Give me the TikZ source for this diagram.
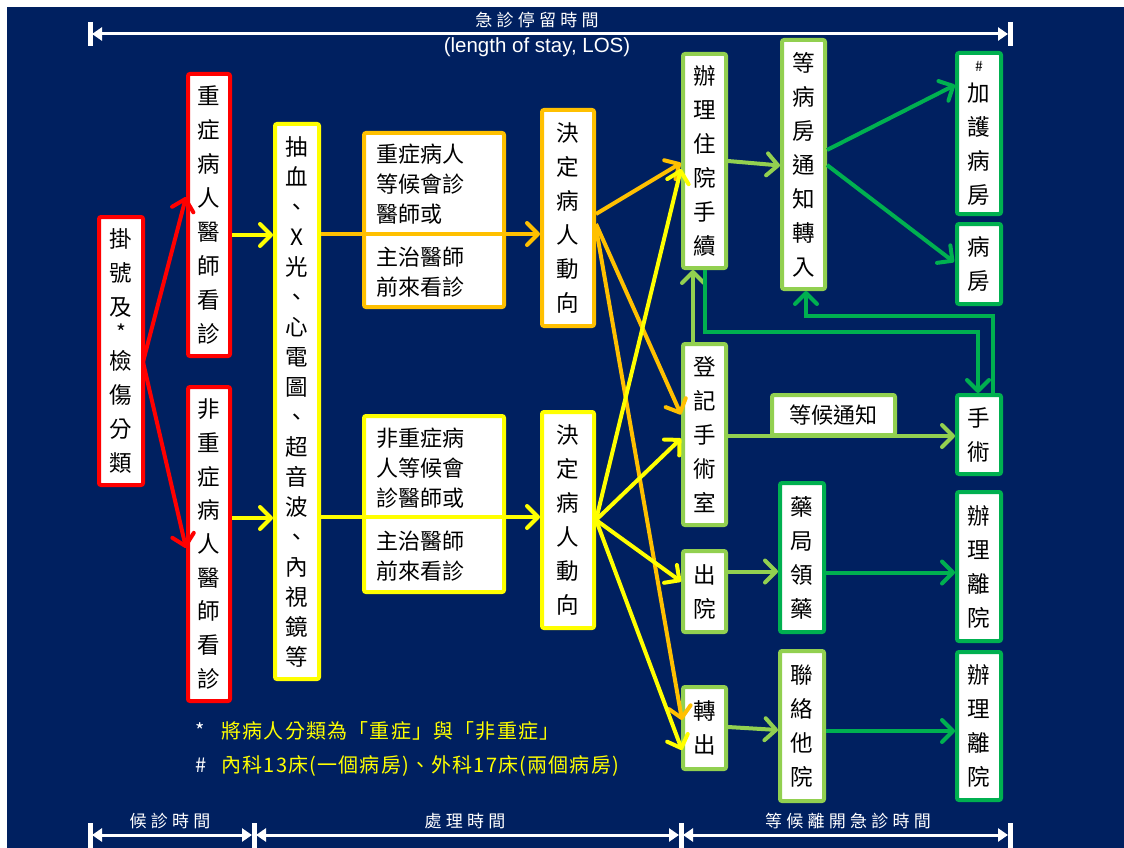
\documentclass[tikz,border=0pt]{standalone}
\usepackage{fontspec}
\usetikzlibrary{arrows.meta,calc}
\setmainfont{Liberation Sans}
\newfontfamily\cjk{Noto Sans CJK TC}
\newfontfamily\cjkls{Noto Sans CJK TC}[LetterSpace=25]
\newfontfamily\cjkfn{Noto Sans CJK TC}[LetterSpace=6]
\definecolor{navy}{RGB}{0,32,96}
\definecolor{cred}{RGB}{255,0,0}
\definecolor{cyel}{RGB}{255,255,0}
\definecolor{corg}{RGB}{255,192,0}
\definecolor{clg}{RGB}{146,208,80}
\definecolor{cdg}{RGB}{0,176,80}
\tikzset{
  box/.style={draw=#1, fill=white, line width=4pt, rounded corners=2pt, inner sep=0pt,
    align=center, text=black, font=\cjk\fontsize{22.5}{34}\selectfont},
  arr/.style={draw=#1, line width=4pt, -{Straight Barb[length=11pt,width=22pt,line width=4pt,round]}},
  dimline/.style={draw=white, line width=3pt, {Triangle[length=10pt,width=13pt]}-{Triangle[length=10pt,width=13pt]}},
  dimbar/.style={draw=white, line width=5pt},
  wlabel/.style={text=white, font=\cjkls\fontsize{17}{17}\selectfont, inner sep=0pt},
  wide/.style={text=black, font=\cjk\fontsize{22}{30}\selectfont, align=left, inner sep=0pt, anchor=west},
}
\begin{document}
\begin{tikzpicture}[x=1pt,y=-1pt]
\useasboundingbox (0,0) rectangle (1124,848);
\fill[white] (0,0) rectangle (1124,848);
\fill[navy] (7,7) rectangle (1124,848);

% ---- boxes ----
\node[box=cred, minimum width=44, minimum height=268] (reg) at (121,351)
  {掛\\號\\及\\[-9pt]{\fontsize{21}{21}\selectfont *}\\[-5pt]檢\\傷\\分\\類};
\node[box=cred, minimum width=42, minimum height=282] (sev) at (209,215)
  {重\\症\\病\\人\\醫\\師\\看\\診};
\node[box=cred, minimum width=42, minimum height=314, font=\cjk\fontsize{22.5}{33.7}\selectfont] (nonsev) at (209,544)
  {非\\重\\症\\病\\人\\醫\\師\\看\\診};
\node[box=cyel, minimum width=44, minimum height=555, font=\cjk\fontsize{22.5}{30}\selectfont] (tests) at (297,401.5)
  {抽\\血\\、\\X\\光\\、\\心\\電\\圖\\、\\超\\音\\波\\、\\內\\視\\鏡\\等};
\node[box=corg, minimum width=140, minimum height=174] (obox) at (434,220) {};
\node[wide] (otext) at (376,221) {重症病人\\等候會診\\醫師或\\[13pt]主治醫師\\前來看診};
\node[box=corg, minimum width=52, minimum height=216] (dec1) at (568,218)
  {決\\定\\病\\人\\動\\向};
\node[box=cyel, minimum width=140, minimum height=176] (ybox) at (434,504) {};
\node[wide] (ytext) at (376,505) {非重症病\\人等候會\\診醫師或\\[13pt]主治醫師\\前來看診};
\node[box=cyel, minimum width=52, minimum height=216] (dec2) at (568,520)
  {決\\定\\病\\人\\動\\向};

\node[box=clg, minimum width=43, minimum height=214] (admit) at (704.5,161)
  {辦\\理\\住\\院\\手\\續};
\node[box=clg, minimum width=43, minimum height=249] (waitward) at (803.5,164.5)
  {等\\病\\房\\通\\知\\轉\\入};
\node[box=cdg, minimum width=44, minimum height=161] (icu) at (979,133.5)
  {{\fontsize{14}{14}\selectfont\#}\\[-4pt]加\\護\\病\\房};
\node[box=cdg, minimum width=44, minimum height=80] (ward) at (979,264)
  {病\\房};
\node[box=clg, minimum width=43, minimum height=181] (regor) at (704.5,434.5)
  {登\\記\\手\\術\\室};
\node[box=cdg, minimum width=44, minimum height=79] (surg) at (979,434.5)
  {手\\術};
\node[box=clg, minimum width=43, minimum height=81] (disch) at (704.5,591.5)
  {出\\院};
\node[box=cdg, minimum width=44, minimum height=149] (pharm) at (802,557.5)
  {藥\\局\\領\\藥};
\node[box=cdg, minimum width=44, minimum height=149] (leave1) at (979,566.5)
  {辦\\理\\離\\院};
\node[box=clg, minimum width=43, minimum height=82] (transf) at (704.5,728)
  {轉\\出};
\node[box=clg, minimum width=44, minimum height=150] (contact) at (802,726)
  {聯\\絡\\他\\院};
\node[box=cdg, minimum width=44, minimum height=148] (leave2) at (979,726)
  {辦\\理\\離\\院};

% ---- connectors, left part ----
\draw[arr=cred] ($(reg.east)+(-2,11)$) -- ($(sev.west)+(0,-18)$);
\draw[arr=cred] ($(reg.east)+(-2,11)$) -- ($(nonsev.west)+(0,4)$);
\draw[arr=cyel] ($(sev.east)+(0,20)$) coordinate (y1) -- (y1 -| tests.west);
\draw[arr=cyel] ($(nonsev.east)+(0,-26)$) coordinate (y2) -- (y2 -| tests.west);
\draw[arr=corg] ($(tests.east)+(0,-167.5)$) coordinate (o1) -- (o1 -| dec1.west);
\draw[arr=cyel] ($(tests.east)+(0,115.5)$) coordinate (y3) -- (y3 -| dec2.west);

% ---- from decision boxes ----
\draw[arr=corg] ($(dec1.east)+(0,-4)$) -- ($(admit.west)+(0,2)$);
\draw[arr=corg] ($(dec1.east)+(0,6)$) -- ($(regor.west)+(0,-20)$);
\draw[arr=corg] ($(dec1.east)+(0,10)$) -- ($(transf.west)+(1,-8)$);
\draw[arr=cyel] (dec2.east) -- ($(admit.west)+(0,8)$);
\draw[arr=cyel] (dec2.east) -- ($(regor.west)+(0,4)$);
\draw[arr=cyel] (dec2.east) -- ($(disch.west)+(0,-10)$);
\draw[arr=cyel] (dec2.east) -- ($(transf.west)+(1,22)$);

% ---- right part ----
\draw[arr=clg] (admit.east) -- ($(waitward.west)+(0,1)$);
\draw[arr=clg] ($(regor.north)+(-11.5,0)$) coordinate (g1) -- (g1 |- admit.south);
\draw[arr=cdg] (admit.south) -- ++(0,62) -| ($(surg.north)+(-1,0)$);
\draw[arr=cdg] ($(surg.north)+(14,0)$) -- ++(0,-77) -| ($(waitward.south)+(2.5,0)$);
\draw[arr=cdg] ($(waitward.east)+(0,-14.5)$) -- ($(icu.west)+(0,-48.5)$);
\draw[arr=cdg] ($(waitward.east)+(0,0.5)$) -- ($(ward.west)+(-1,-2)$);
\draw[arr=clg] ($(regor.east)+(0,1.5)$) coordinate (g2) -- (g2 -| surg.west);
\node[box=clg, minimum width=123, minimum height=40, font=\cjk\fontsize{22}{22}\selectfont] (waitnote) at (833.5,415) {等候通知};
\draw[arr=clg] ($(disch.east)+(0,-20)$) coordinate (g3) -- (g3 -| pharm.west);
\draw[arr=cdg] ($(pharm.east)+(0,15)$) coordinate (g4) -- (g4 -| leave1.west);
\draw[arr=clg] ($(transf.east)+(0,-1)$) -- ($(contact.west)+(0,4)$);
\draw[arr=cdg] ($(contact.east)+(0,5)$) coordinate (g5) -- (g5 -| leave2.west);

% ---- dimension lines ----
\coordinate (t1) at (90,34); \coordinate (t2) at (1010,34);
\draw[dimbar] (90,22) -- (90,46);
\draw[dimbar] (1010,22) -- (1010,46);
\draw[dimline] ($(t1)+(2,0)$) -- ($(t2)+(-2,0)$);
\node[wlabel] (toplab) at (537,20) {急診停留時間};
\node[text=white, font=\fontsize{20.5}{20.5}\selectfont, inner sep=0pt] (los) at (537,47) {(length of stay, LOS)};

\coordinate (b1) at (90,835); \coordinate (b2) at (254,835);
\coordinate (b3) at (681,835); \coordinate (b4) at (1010,835);
\foreach \xx in {90,254,681,1010} \draw[dimbar] (\xx,823) -- (\xx,848);
\draw[dimline] ($(b1)+(2,0)$) -- ($(b2)+(-2,0)$);
\draw[dimline] ($(b2)+(2,0)$) -- ($(b3)+(-2,0)$);
\draw[dimline] ($(b3)+(2,0)$) -- ($(b4)+(-2,0)$);
\node[wlabel] (lab1) at (170,821) {候診時間};
\node[wlabel] (lab2) at (465,821) {處理時間};
\node[wlabel] (lab3) at (848,821) {等候離開急診時間};

% ---- footnotes ----
\node[anchor=west, inner sep=0pt, font=\cjk\fontsize{20}{20}\selectfont] (fn1) at (195,731)
  {\textcolor{white}{*}\hspace{17pt}\textcolor{cyel}{\cjkfn 將病人分類為「重症」與「非重症」}};
\node[anchor=west, inner sep=0pt, font=\cjk\fontsize{20}{20}\selectfont] (fn2) at (195,766)
  {\textcolor{white}{\#}\hspace{15pt}\textcolor{cyel}{\cjkfn 內科13床(一個病房)、外科17床(兩個病房)}};
\end{tikzpicture}
\end{document}
